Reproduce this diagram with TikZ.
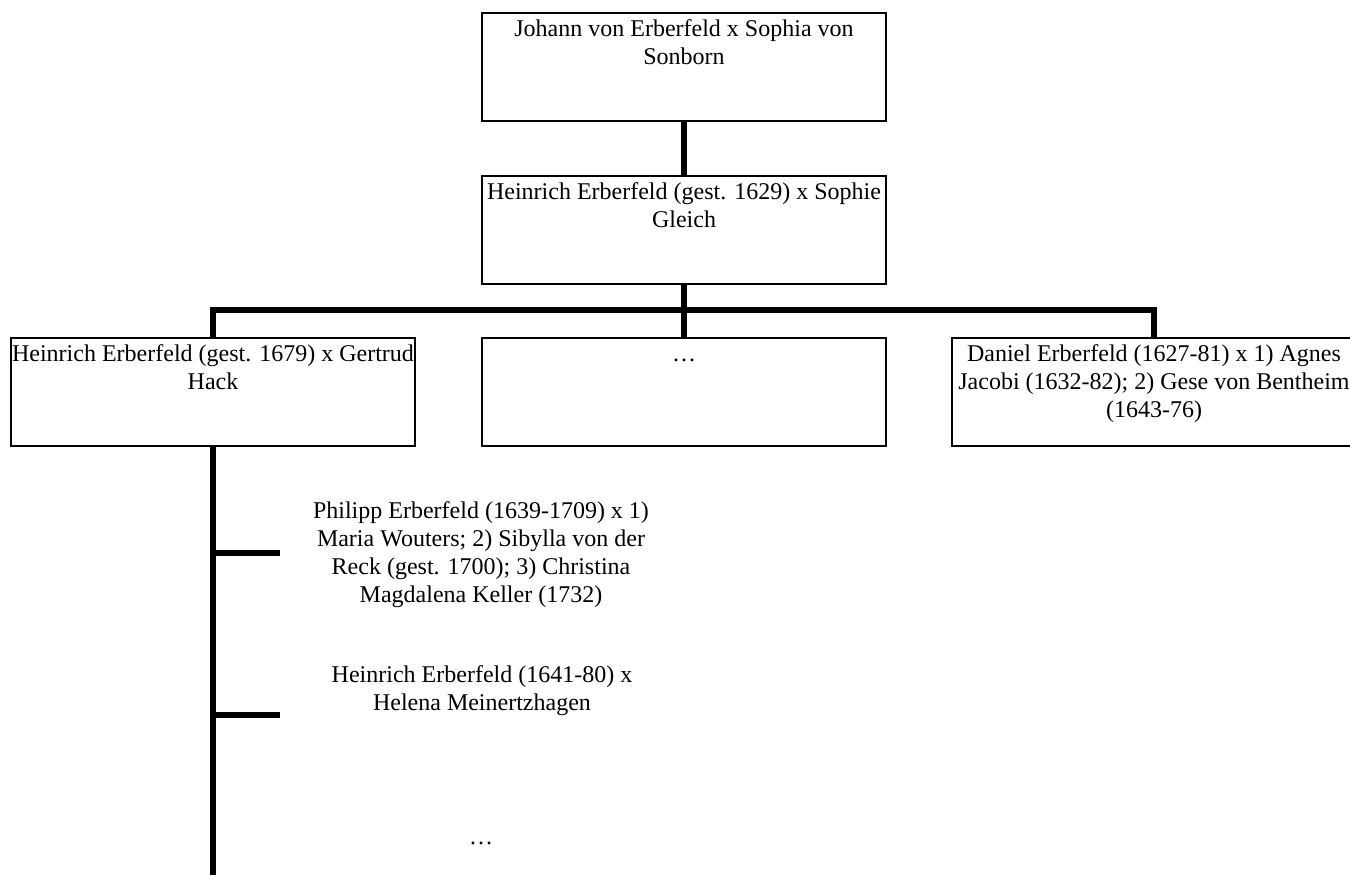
\documentclass[tikz,border=0pt]{standalone}
\usepackage{fontspec}
\setmainfont{Liberation Serif}
\usepackage{tikz}
\usetikzlibrary{positioning,calc}
\newcommand{\famtext}[1]{\parbox[t][50pt][t]{202pt}{\centering\strut #1}}
\tikzset{
    famblock/.style = {
        draw,
        shape=rectangle,
        anchor=north,
        inner xsep=0pt,
        inner ysep=2pt,
        minimum width=202pt,
        minimum height=54pt,
        line width=0.8pt
    },
    child/.style = {
        shape=rectangle,
        align=center,
        inner sep=0pt
    },
    link/.style = {
        draw,
        line width=2.6pt
    },
}
\begin{document}
\begin{tikzpicture}[x=0.5pt,y=-0.5pt,font=\fontsize{12}{14}\selectfont]
            \useasboundingbox (0,0) rectangle (1350,874);
            \clip (0,0) rectangle (1350,874);

            \node[famblock] (johann) at (684,12) {\famtext{Johann von Erberfeld x Sophia von\\Sonborn}};
            \node[famblock] (heinrich) at (684,175) {\famtext{Heinrich Erberfeld (gest. 1629) x Sophie\\Gleich}};

            \node[famblock] (gertrud) at (213,337) {\famtext{Heinrich Erberfeld (gest. 1679) x Gertrud\\Hack}};
            \node[famblock] (middle) at (684,337) {\famtext{…}};
            \node[famblock] (daniel) at (1154,337) {\famtext{Daniel Erberfeld (1627-81) x 1) Agnes\\Jacobi (1632-82); 2) Gese von Bentheim\\(1643-76)}};

            \node[child] (philipp) at (481,555) {Philipp Erberfeld (1639-1709) x 1)\\Maria Wouters; 2) Sibylla von der\\Reck (gest. 1700); 3) Christina\\Magdalena Keller (1732)};
            \node[child] (heinrichjr) at (482,691) {Heinrich Erberfeld (1641-80) x\\Helena Meinertzhagen};
            \node[child] (rest) at (481,843) {…};

            \coordinate (bar) at (684,310);
            \coordinate (philtick) at (280,553);
            \coordinate (heintick) at (280,715);
            \coordinate (bottom) at (213,880);

            \path[link] (johann.south) -- (heinrich.north);
            \path[link] (heinrich.south) -- (middle.north);
            \path[link] (gertrud.north) |- (bar) -| (daniel.north);

            \path[link] (gertrud.south) -- (bottom);
            \path[link] (gertrud.south |- philtick) -- (philtick);
            \path[link] (gertrud.south |- heintick) -- (heintick);
        \end{tikzpicture}
\end{document}
